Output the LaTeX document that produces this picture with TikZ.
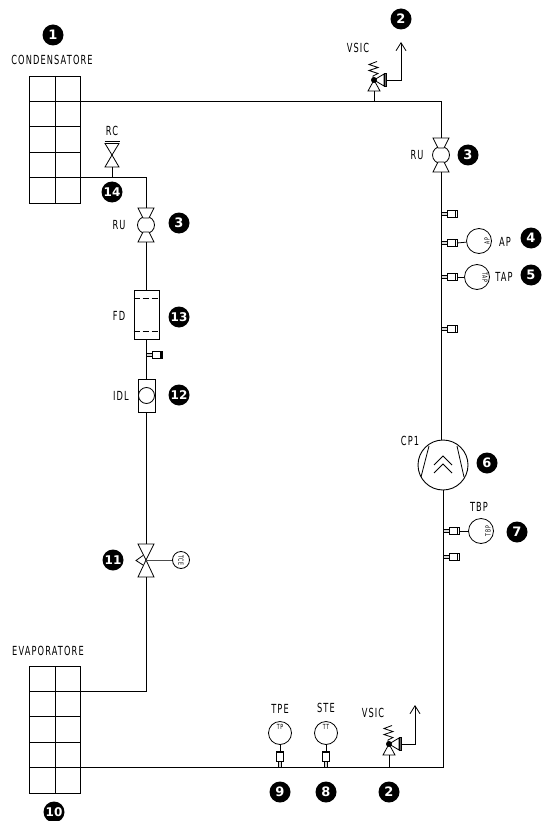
\documentclass[tikz,border=0pt]{standalone}
\usepackage{fontspec}
\setmainfont{DejaVu Sans}
\newfontfamily\lab[LetterSpace=9,FakeStretch=0.66]{DejaVu Sans}
\newfontfamily\bad{DejaVu Sans Bold}
\usetikzlibrary{arrows.meta}
\tikzset{
  pipe/.style={line width=0.9pt,black},
  thin line/.style={line width=0.8pt,black},
  badge/.style={circle,fill=black,text=white,inner sep=0pt,minimum size=21pt,font=\bad\fontsize{13}{13}\selectfont},
  badge two/.style={badge,font=\bad\fontsize{12}{12}\selectfont},
  lbl/.style={inner sep=0pt,font=\lab\fontsize{12.5}{13}\selectfont},
  tiny lbl/.style={inner sep=0pt,font=\lab\fontsize{7}{7}\selectfont},
  gauge/.style={draw,line width=0.8pt,circle,inner sep=0pt,minimum size=25pt,fill=white},
  fitting/.pic={
    \draw[line width=0.7pt,fill=black!15] (0,-1.6) rectangle (6,1.6);
    \draw[line width=0.9pt,fill=white] (6,-3.5) rectangle (16,3.5);
    \draw[line width=1.4pt] (14.5,-3.5) -- (14.5,3.5);
  },
  hvalve/.pic={
    \draw[thin line,fill=white] (-8,-17) -- (8,-17) -- (3,-7) -- (-3,-7) -- cycle;
    \draw[thin line,fill=white] (-8,17) -- (8,17) -- (3,7) -- (-3,7) -- cycle;
  },
  safety/.pic={
    \draw[thin line,fill=white] (0,0) -- (-6,11) -- (6,11) -- cycle;
    \draw[thin line,fill=white] (0,0) -- (10,-6) -- (10,6) -- cycle;
    \draw[black,fill=black!60] (10,-6.5) rectangle (12.5,6.5);
    \draw[thin line] (-1,-2) -- (-1,-4) -- (4,-6.5) -- (-5,-9.5) -- (4,-12.5) -- (-5,-15.5) -- (3,-18.5);
    \fill (0,0) circle (3pt);
  }
}
\begin{document}
\begin{tikzpicture}[x=1pt,y=-1pt]
\useasboundingbox[fill=white] (0,0) rectangle (542,821);

% heat exchangers
\draw[pipe,shift={(29.5,76)}] (0,0) rectangle (51,127)
  (25.5,0) -- (25.5,127) (0,25.4) -- (51,25.4) (0,50.8) -- (51,50.8) (0,76.2) -- (51,76.2) (0,101.6) -- (51,101.6);
\draw[pipe,shift={(29.5,666)}] (0,0) rectangle (51,127)
  (25.5,0) -- (25.5,127) (0,25.4) -- (51,25.4) (0,50.8) -- (51,50.8) (0,76.2) -- (51,76.2) (0,101.6) -- (51,101.6);

% key points
\coordinate (condOut) at (80.5,101.4);
\coordinate (cornerTR) at (441,101.4);
\coordinate (condIn) at (80.5,177.5);
\coordinate (cornerL) at (146,177.5);
\coordinate (evapIn) at (80.5,691);
\coordinate (cornerEv) at (146,691);
\coordinate (evapOut) at (80.5,767);
\coordinate (cornerBR) at (443,767);
\coordinate (rcStem) at (112,177.5);
\coordinate (vs1Stem) at (374,101.4);
\coordinate (vs2Stem) at (389,767);

% valve bodies
\coordinate (ruRc) at (441,155);
\coordinate (ruLc) at (146,225);
\node[draw,thin line,circle,minimum size=17pt,inner sep=0pt] (ruR) at (ruRc) {};
\node[draw,thin line,circle,minimum size=17pt,inner sep=0pt] (ruL) at (ruLc) {};
\pic at (ruRc) {hvalve};
\pic at (ruLc) {hvalve};
\coordinate (ruRb) at (441,172);
\coordinate (ruRt) at (441,138);
\coordinate (ruLb) at (146,242);
\coordinate (ruLt) at (146,208);

% filter
\node[draw,thin line,minimum width=25pt,minimum height=49pt,inner sep=0pt] (fd) at (146.5,314.5) {};
\draw[thin line,dash pattern=on 6pt off 3pt] (fd.north west)++(0,8.5) -- ++(25,0);
\draw[thin line,dash pattern=on 6pt off 3pt] (fd.south west)++(0,-8) -- ++(25,0);

% sight glass
\node[draw,thin line,minimum width=17pt,minimum height=33pt,inner sep=0pt] (idl) at (146.5,395.5) {};
\node[draw,thin line,circle,minimum size=16pt,inner sep=0pt] (idlc) at (146.5,395.5) {};

% expansion valve
\coordinate (ev) at (146,560);
\coordinate (evt) at (146,544);
\coordinate (evb) at (146,577);
\draw[thin line] (ev) -- (138,544) -- (154,544) -- cycle;
\draw[thin line] (ev) -- (138,577) -- (154,577) -- cycle;
\draw[thin line] (143,555.5) -- (136,560.5) -- (143,565);
\node[gauge,minimum size=17pt] (tce) at (181,560) {};
\node[tiny lbl,rotate=-90] at (tce) {TCE};
\draw[thin line,black!70] (ev) -- (tce);

% RC valve
\coordinate (rc) at (112,155);
\draw[thin line] (rc) -- (105,143.5) -- (119,143.5) -- cycle;
\draw[thin line] (rc) -- (105,167) -- (119,167) -- cycle;
\draw[line width=1pt] (104.5,142) -- (119.5,142);
\coordinate (rcb) at (112,167);

% compressor
\node[draw,line width=0.9pt,circle,minimum size=50pt,inner sep=0pt] (cp) at (443,465) {};
\draw[thin line] (429,446) -- (421,477);
\draw[thin line] (457,446) -- (464,477);
\draw[thin line] (434,465) -- (443,456) -- (452,465);
\draw[thin line] (434,473) -- (443,464) -- (452,473);

% pipes
\draw[pipe] (condOut) -- (cornerTR) -- (ruRt);
\draw[pipe] (condIn) -- (cornerL) -- (ruLt);
\draw[pipe] (rcb) -- (rcStem);
\draw[pipe] (ruRb) -- (cp.north -| ruRb);
\draw[pipe] (cp.south) -- (cornerBR) -- (evapOut);
\draw[pipe] (ruLb) -- (fd.north -| ruLb);
\draw[pipe] (fd.south -| ruLb) -- (idl.north -| ruLb);
\draw[pipe] (idl.south -| ruLb) -- (evt);
\draw[pipe] (evb) -- (cornerEv) -- (evapIn);

% safety valves
\pic at (374,80) {safety};
\pic at (389,744) {safety};
\coordinate (vs1o) at (386.5,80);
\coordinate (vs1a) at (401,80);
\coordinate (vs1t) at (401,42);
\coordinate (vs2o) at (401.5,744);
\coordinate (vs2a) at (415,744);
\coordinate (vs2t) at (415,705);
\draw[thin line,-{Straight Barb[length=8pt,width=10pt,line width=0.8pt]}] (vs1o) -- (vs1a) -- (vs1t);
\draw[thin line,-{Straight Barb[length=8pt,width=10pt,line width=0.8pt]}] (vs2o) -- (vs2a) -- (vs2t);
\draw[thin line] (vs1Stem) -- (374,91);
\draw[thin line] (vs2Stem) -- (389,755);

% fittings and gauges
\pic at (441,214) {fitting};
\pic at (441,243) {fitting};
\pic at (441,277) {fitting};
\pic at (441,329) {fitting};
\pic at (443,531) {fitting};
\pic at (443,557) {fitting};
\pic at (146.5,355) {fitting};
\pic[rotate=90] at (280,767) {fitting};
\pic[rotate=90] at (326,767) {fitting};

\node[gauge] (ap) at (479,241) {};
\node[gauge] (tap) at (477,277) {};
\node[gauge] (tbp) at (481,531) {};
\node[gauge,minimum size=23pt] (tpe) at (280,733) {};
\node[gauge,minimum size=23pt] (ste) at (326,733) {};
\coordinate (fa) at (457,243);
\coordinate (fb) at (457,277);
\coordinate (fc) at (459,531);
\coordinate (fd1) at (280,751);
\coordinate (fe) at (326,751);
\draw[thin line] (fa) -- (ap);
\draw[thin line] (fb) -- (tap);
\draw[thin line] (fc) -- (tbp);
\draw[thin line] (fd1) -- (tpe);
\draw[thin line] (fe) -- (ste);
\node[tiny lbl,rotate=90] at (487,241) {AP};
\node[tiny lbl,rotate=-90] at (485,277) {TAP};
\node[tiny lbl,rotate=90] at (488,531) {TBP};
\node[tiny lbl] at (280,727) {TP};
\node[tiny lbl] at (326,727) {TT};

% labels
\node[lbl] (lcond) at (52,60) {CONDENSATORE};
\node[lbl] (levap) at (48,651) {EVAPORATORE};
\node[lbl] (lrc) at (112,131) {RC};
\node[lbl] (lvs1) at (358,48) {VSIC};
\node[lbl] (lvs2) at (373,713) {VSIC};
\node[lbl] (lru1) at (417,155) {RU};
\node[lbl] (lru2) at (119,225) {RU};
\node[lbl] (lfd) at (119,316) {FD};
\node[lbl] (lidl) at (121,396) {IDL};
\node[lbl] (lap) at (505,242) {AP};
\node[lbl] (ltap) at (504,277) {TAP};
\node[lbl] (lcp) at (410,441) {CP1};
\node[lbl] (ltbp) at (479,507) {TBP};
\node[lbl] (ltpe) at (280,709) {TPE};
\node[lbl] (lste) at (326,708) {STE};

% badges
\node[badge] (b1) at (53,35) {1};
\node[badge] (b2a) at (401,19) {2};
\node[badge] (b3a) at (468,155) {3};
\node[badge] (b3b) at (179,223) {3};
\node[badge] (b4) at (531,238) {4};
\node[badge] (b5) at (531,275) {5};
\node[badge] (b6) at (487,463) {6};
\node[badge] (b7) at (517,532) {7};
\node[badge] (b8) at (326,792) {8};
\node[badge] (b9) at (280,792) {9};
\node[badge] (b2b) at (389,792) {2};
\node[badge two] (b10) at (54,812) {10};
\node[badge two] (b11) at (113,560) {11};
\node[badge two] (b12) at (179,395) {12};
\node[badge two] (b13) at (179,317) {13};
\node[badge two] (b14) at (112,192) {14};
\end{tikzpicture}
\end{document}
